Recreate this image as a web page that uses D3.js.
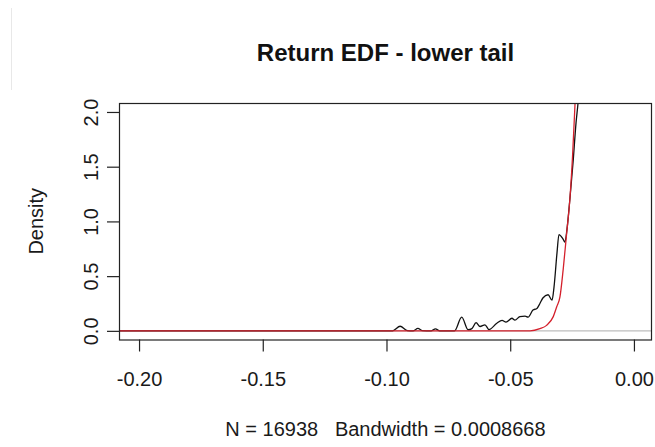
<!DOCTYPE html>
<html lang="en">
  <head>
    <meta charset="UTF-8" />
    <title>Return EDF - lower tail</title>
    <style>
      body {
        margin: 0;
        background: #fff;
      }
      svg {
        display: block;
        font-family: 'Liberation Sans', Arial, sans-serif;
      }
    </style>
  </head>
  <body>
    <svg width="655" height="447"></svg>
    <script src="https://d3js.org/d3.v7.min.js"></script>
    <script>
      // kernel density of returns (black)
      const kdeX = [
        -0.21, -0.0975, -0.0945, -0.0915, -0.0893, -0.0873, -0.0855, -0.082,
        -0.0802, -0.0785, -0.0725, -0.0696, -0.067, -0.0655, -0.0638, -0.0622,
        -0.0602, -0.0586, -0.0554, -0.0533, -0.0517, -0.0493, -0.0481, -0.0461,
        -0.044, -0.0428, -0.0408, -0.0392, -0.038, -0.0368, -0.0347, -0.0331,
        -0.0323, -0.0311, -0.0303, -0.0287, -0.0279, -0.0271, -0.0259, -0.0246,
        -0.0234, -0.0226, -0.0215
      ];
      const kdeY = [
        0, 0, 0.042, 0.002, 0, 0.022, 0.002, 0, 0.018, 0, 0, 0.125, 0.01, 0.02,
        0.075, 0.04, 0.055, 0.012, 0.07, 0.095, 0.08, 0.115, 0.098, 0.13, 0.135,
        0.125, 0.19, 0.205, 0.25, 0.3, 0.33, 0.28, 0.4, 0.71, 0.88, 0.84, 0.81,
        0.92, 1.2, 1.54, 1.9, 2.08, 2.4
      ];

      // fitted density (red)
      const fitX = [
        -0.21, -0.042, -0.038, -0.0353, -0.0326, -0.0312, -0.0299, -0.0286,
        -0.0272, -0.0259, -0.0248, -0.0238, -0.0228
      ];
      const fitY = [0, 0, 0.02, 0.05, 0.13, 0.22, 0.31, 0.56, 0.89, 1.2, 1.6, 2.08, 2.6];

      const xTicks = [-0.2, -0.15, -0.1, -0.05, 0];
      const yTicks = [0, 0.5, 1, 1.5, 2];

      const svg = d3.select('svg'),
        width = +svg.attr('width'),
        height = +svg.attr('height'),
        margin = { top: 103, right: 3, bottom: 107.5, left: 119 };

      const x = d3
        .scaleLinear()
        .domain([-0.2081, 0.0073])
        .range([margin.left, width - margin.right]);
      const y = d3
        .scaleLinear()
        .domain([-0.079, 2.082])
        .range([height - margin.bottom, margin.top]);

      // R prints a plain hyphen for negatives
      const fmt = (spec) => {
        const f = d3.format(spec);
        return (d) => f(d).replace('\u2212', '-');
      };

      // faint scan edge on the left
      svg
        .append('line')
        .attr('x1', 11.5)
        .attr('x2', 11.5)
        .attr('y1', 8)
        .attr('y2', 90)
        .attr('stroke', '#e8e8e8');

      svg
        .append('clipPath')
        .attr('id', 'plot-clip')
        .append('rect')
        .attr('x', margin.left)
        .attr('y', margin.top)
        .attr('width', width - margin.left - margin.right)
        .attr('height', height - margin.top - margin.bottom);

      const plot = svg.append('g').attr('clip-path', 'url(#plot-clip)');

      // zero reference
      plot
        .append('line')
        .attr('x1', margin.left)
        .attr('x2', width - margin.right)
        .attr('y1', y(0))
        .attr('y2', y(0))
        .attr('stroke', '#bebebe')
        .attr('stroke-width', 1.2);

      const line = d3
        .line()
        .x((d) => x(d[0]))
        .y((d) => y(d[1]))
        .curve(d3.curveMonotoneX);

      plot
        .append('path')
        .datum(d3.zip(kdeX, kdeY))
        .attr('d', line)
        .attr('fill', 'none')
        .attr('stroke', '#111')
        .attr('stroke-width', 1.3);

      plot
        .append('path')
        .datum(d3.zip(fitX, fitY))
        .attr('d', line)
        .attr('fill', 'none')
        .attr('stroke', '#d4202c')
        .attr('stroke-width', 1.3);

      // box
      svg
        .append('rect')
        .attr('x', margin.left + 0.5)
        .attr('y', margin.top + 0.5)
        .attr('width', width - margin.left - margin.right - 1)
        .attr('height', height - margin.top - margin.bottom)
        .attr('fill', 'none')
        .attr('stroke', '#222')
        .attr('stroke-width', 1.2);

      const xAxis = svg
        .append('g')
        .attr('transform', `translate(0,${height - margin.bottom})`)
        .call(
          d3
            .axisBottom(x)
            .tickValues(xTicks)
            .tickSize(12)
            .tickPadding(20)
            .tickFormat(fmt('.2f'))
        );
      xAxis.select('.domain').remove();
      xAxis
        .selectAll('line')
        .attr('stroke', '#222')
        .attr('stroke-width', 1.2);
      xAxis
        .selectAll('text')
        .attr('font-size', 20)
        .attr('fill', '#1a1a1a')
        .attr('font-family', "'Liberation Sans', Arial, sans-serif");

      const yAxis = svg
        .append('g')
        .attr('transform', `translate(${margin.left},0)`)
        .call(
          d3
            .axisLeft(y)
            .tickValues(yTicks)
            .tickSize(12)
            .tickFormat(fmt('.1f'))
        );
      yAxis.select('.domain').remove();
      yAxis
        .selectAll('line')
        .attr('stroke', '#222')
        .attr('stroke-width', 1.2);
      yAxis
        .selectAll('text')
        .attr('x', null)
        .attr('dy', null)
        .attr('text-anchor', 'middle')
        .attr('dominant-baseline', 'central')
        .attr('transform', 'translate(-28.5,0) rotate(-90)')
        .attr('font-size', 20)
        .attr('fill', '#1a1a1a')
        .attr('font-family', "'Liberation Sans', Arial, sans-serif");

      const cx = (margin.left + width - margin.right) / 2;

      svg
        .append('text')
        .attr('x', cx)
        .attr('y', 61)
        .attr('text-anchor', 'middle')
        .attr('font-size', 24)
        .attr('font-weight', 'bold')
        .attr('fill', '#111')
        .text('Return EDF - lower tail');

      svg
        .append('text')
        .attr('x', cx)
        .attr('y', 436)
        .attr('text-anchor', 'middle')
        .attr('font-size', 20)
        .attr('fill', '#1a1a1a')
        .attr('xml:space', 'preserve')
        .style('white-space', 'pre')
        .text('N = 16938   Bandwidth = 0.0008668');

      svg
        .append('text')
        .attr('transform', `translate(36,${(margin.top + height - margin.bottom) / 2}) rotate(-90)`)
        .attr('text-anchor', 'middle')
        .attr('dominant-baseline', 'central')
        .attr('font-size', 20)
        .attr('fill', '#1a1a1a')
        .text('Density');
    </script>
  </body>
</html>
